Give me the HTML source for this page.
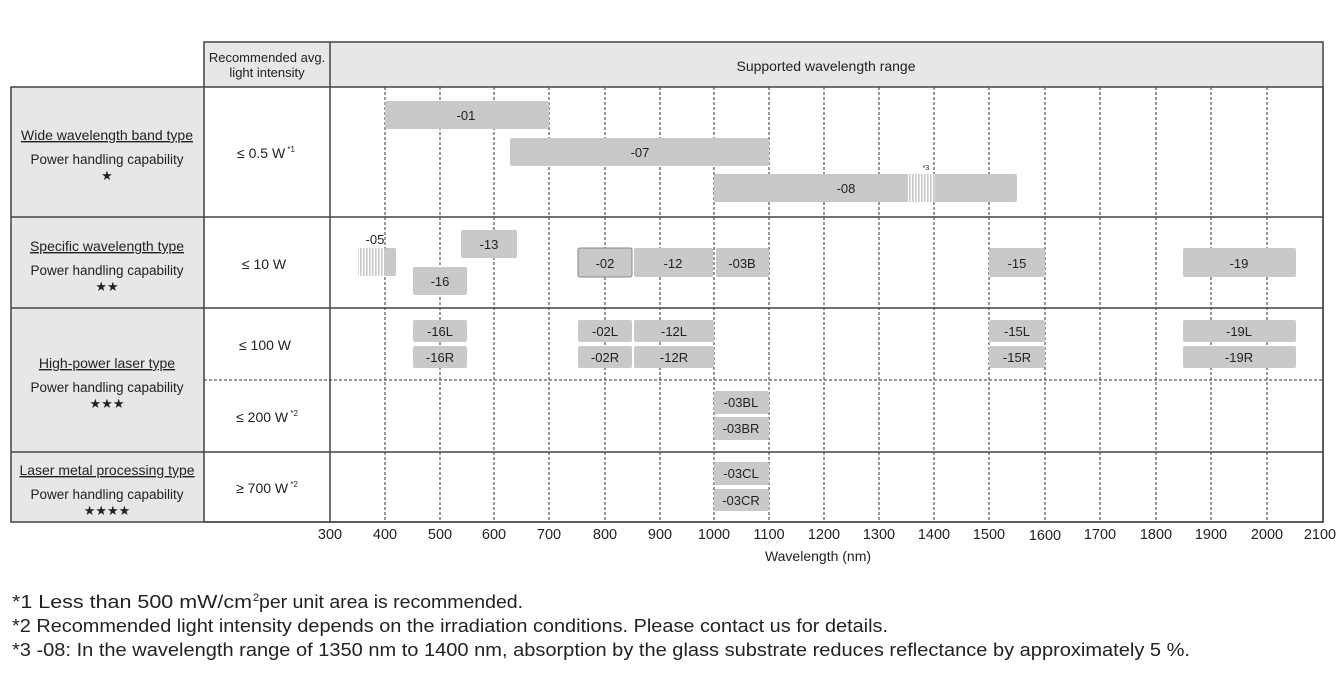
<!DOCTYPE html>
<html><head><meta charset="utf-8"><style>
html,body{margin:0;padding:0;background:#fff;}
svg{display:block;font-family:"Liberation Sans",sans-serif;}
</style></head><body>
<svg width="1343" height="675" viewBox="0 0 1343 675" xmlns="http://www.w3.org/2000/svg">
<defs>
<pattern id="h" width="3" height="10" patternUnits="userSpaceOnUse">
<rect width="3" height="10" fill="#fff"/><rect width="1.6" height="10" fill="#c8c9ca"/>
</pattern>
</defs>
<rect x="204" y="42" width="1119" height="45" fill="#e6e7e8"/>
<rect x="11" y="87" width="193" height="435" fill="#e6e7e8"/>
<g stroke="#333" stroke-width="1" stroke-dasharray="3,2">
<line x1="385" y1="87" x2="385" y2="522"/><line x1="440" y1="87" x2="440" y2="522"/>
<line x1="494" y1="87" x2="494" y2="522"/><line x1="549" y1="87" x2="549" y2="522"/>
<line x1="605" y1="87" x2="605" y2="522"/><line x1="660" y1="87" x2="660" y2="522"/>
<line x1="714" y1="87" x2="714" y2="522"/><line x1="769" y1="87" x2="769" y2="522"/>
<line x1="824" y1="87" x2="824" y2="522"/><line x1="879" y1="87" x2="879" y2="522"/>
<line x1="934" y1="87" x2="934" y2="522"/><line x1="989" y1="87" x2="989" y2="522"/>
<line x1="1045" y1="87" x2="1045" y2="522"/><line x1="1100" y1="87" x2="1100" y2="522"/>
<line x1="1156" y1="87" x2="1156" y2="522"/><line x1="1211" y1="87" x2="1211" y2="522"/>
<line x1="1267" y1="87" x2="1267" y2="522"/>
<line x1="204" y1="380" x2="1323" y2="380"/>
</g>
<g fill="#c8c9ca">
<rect x="385" y="101" width="164" height="28" rx="2"/>
<rect x="510" y="138" width="259" height="28" rx="2"/>
<rect x="714" y="174" width="303" height="28" rx="2"/>
<rect x="461" y="230" width="56" height="28" rx="2"/>
<rect x="413" y="267" width="54" height="28" rx="2"/>
<rect x="578" y="248" width="54" height="29" rx="2" stroke="#888" stroke-width="1"/>
<rect x="634" y="248" width="79" height="29" rx="2"/>
<rect x="716" y="248" width="53" height="29" rx="2"/>
<rect x="989" y="248" width="56" height="29" rx="2"/>
<rect x="1183" y="248" width="113" height="29" rx="2"/>
<rect x="413" y="320" width="54" height="22" rx="2"/><rect x="413" y="346" width="54" height="22" rx="2"/>
<rect x="578" y="320" width="54" height="22" rx="2"/><rect x="578" y="346" width="54" height="22" rx="2"/>
<rect x="634" y="320" width="80" height="22" rx="2"/><rect x="634" y="346" width="80" height="22" rx="2"/>
<rect x="989" y="320" width="56" height="22" rx="2"/><rect x="989" y="346" width="56" height="22" rx="2"/>
<rect x="1183" y="320" width="113" height="22" rx="2"/><rect x="1183" y="346" width="113" height="22" rx="2"/>
<rect x="714" y="391" width="55" height="23" rx="2"/><rect x="714" y="417" width="55" height="23" rx="2"/>
<rect x="714" y="462" width="55" height="23" rx="2"/><rect x="714" y="489" width="55" height="22" rx="2"/>
<rect x="385" y="248" width="11" height="28" rx="2"/>
</g>
<rect x="908" y="174" width="27" height="28" fill="url(#h)"/>
<rect x="358" y="248" width="27" height="28" fill="url(#h)"/>
<g stroke="#444" stroke-width="1.5" fill="none">
<rect x="204" y="42" width="1119" height="480"/>
<rect x="11" y="87" width="1312" height="435"/>
<line x1="330" y1="42" x2="330" y2="522"/>
<line x1="11" y1="217" x2="1323" y2="217"/>
<line x1="11" y1="308" x2="1323" y2="308"/>
<line x1="11" y1="452" x2="1323" y2="452"/>
</g>
<g font-size="13" fill="#222" text-anchor="middle">
<text x="267" y="62">Recommended avg.</text>
<text x="267" y="77">light intensity</text>
<text x="826" y="71" font-size="14">Supported wavelength range</text>
</g>
<g font-size="14" fill="#222" text-anchor="middle">
<text x="107" y="140" text-decoration="underline">Wide wavelength band type</text>
<text x="107" y="164" font-size="13.5">Power handling capability</text>
<text x="107" y="180" font-size="13">★</text>
<text x="107" y="251" text-decoration="underline">Specific wavelength type</text>
<text x="107" y="275" font-size="13.5">Power handling capability</text>
<text x="107" y="291" font-size="13">★★</text>
<text x="107" y="368" text-decoration="underline">High-power laser type</text>
<text x="107" y="392" font-size="13.5">Power handling capability</text>
<text x="107" y="408" font-size="13">★★★</text>
<text x="107" y="475" text-decoration="underline">Laser metal processing type</text>
<text x="107" y="499" font-size="13.5">Power handling capability</text>
<text x="107" y="515" font-size="13">★★★★</text>
</g>
<g font-size="14" fill="#222" text-anchor="middle">
<text x="266" y="158">≤ 0.5 W<tspan font-size="8" dy="-6"> *1</tspan></text>
<text x="264" y="269">≤ 10 W</text>
<text x="265" y="350">≤ 100 W</text>
<text x="267" y="422">≤ 200 W<tspan font-size="8" dy="-6"> *2</tspan></text>
<text x="267" y="493">≥ 700 W<tspan font-size="8" dy="-6"> *2</tspan></text>
</g>
<g font-size="13" fill="#222" text-anchor="middle">
<text x="466" y="120">-01</text>
<text x="640" y="157">-07</text>
<text x="846" y="193">-08</text>
<text x="926" y="170" font-size="7">*3</text>
<text x="375" y="244">-05</text>
<text x="489" y="249">-13</text>
<text x="440" y="286">-16</text>
<text x="605" y="268">-02</text>
<text x="673" y="268">-12</text>
<text x="742" y="268">-03B</text>
<text x="1017" y="268">-15</text>
<text x="1239" y="268">-19</text>
<text x="440" y="336">-16L</text><text x="440" y="362">-16R</text>
<text x="605" y="336">-02L</text><text x="605" y="362">-02R</text>
<text x="674" y="336">-12L</text><text x="674" y="362">-12R</text>
<text x="1017" y="336">-15L</text><text x="1017" y="362">-15R</text>
<text x="1239" y="336">-19L</text><text x="1239" y="362">-19R</text>
<text x="741" y="407">-03BL</text><text x="741" y="433">-03BR</text>
<text x="741" y="478">-03CL</text><text x="741" y="505">-03CR</text>
</g>
<g font-size="14.5" fill="#222" text-anchor="middle">
<text x="330" y="539">300</text><text x="385" y="539">400</text><text x="440" y="539">500</text>
<text x="494" y="539">600</text><text x="549" y="539">700</text><text x="605" y="539">800</text>
<text x="660" y="539">900</text><text x="714" y="539">1000</text><text x="769" y="539">1100</text>
<text x="824" y="539">1200</text><text x="879" y="539">1300</text><text x="934" y="539">1400</text>
<text x="989" y="539">1500</text><text x="1045" y="540">1600</text><text x="1100" y="539">1700</text>
<text x="1156" y="539">1800</text><text x="1211" y="539">1900</text><text x="1267" y="539">2000</text>
<text x="1320" y="539">2100</text>
<text x="818" y="561" font-size="14">Wavelength (nm)</text>
</g>
<g font-size="18" fill="#222" xml:space="preserve">
<text x="12" y="608" textLength="240" lengthAdjust="spacingAndGlyphs">*1  Less than 500 mW/cm</text>
<text x="253" y="601" font-size="11">2</text>
<text x="259" y="608" textLength="264" lengthAdjust="spacingAndGlyphs"> per unit area is recommended.</text>
<text x="12" y="632" textLength="876" lengthAdjust="spacingAndGlyphs">*2 Recommended light intensity depends on the irradiation conditions. Please contact us for details.</text>
<text x="12" y="656" textLength="1178" lengthAdjust="spacingAndGlyphs">*3  -08: In the wavelength range of 1350 nm to 1400 nm, absorption by the glass substrate reduces reflectance by approximately 5 %.</text>
</g>
</svg>
</body></html>
